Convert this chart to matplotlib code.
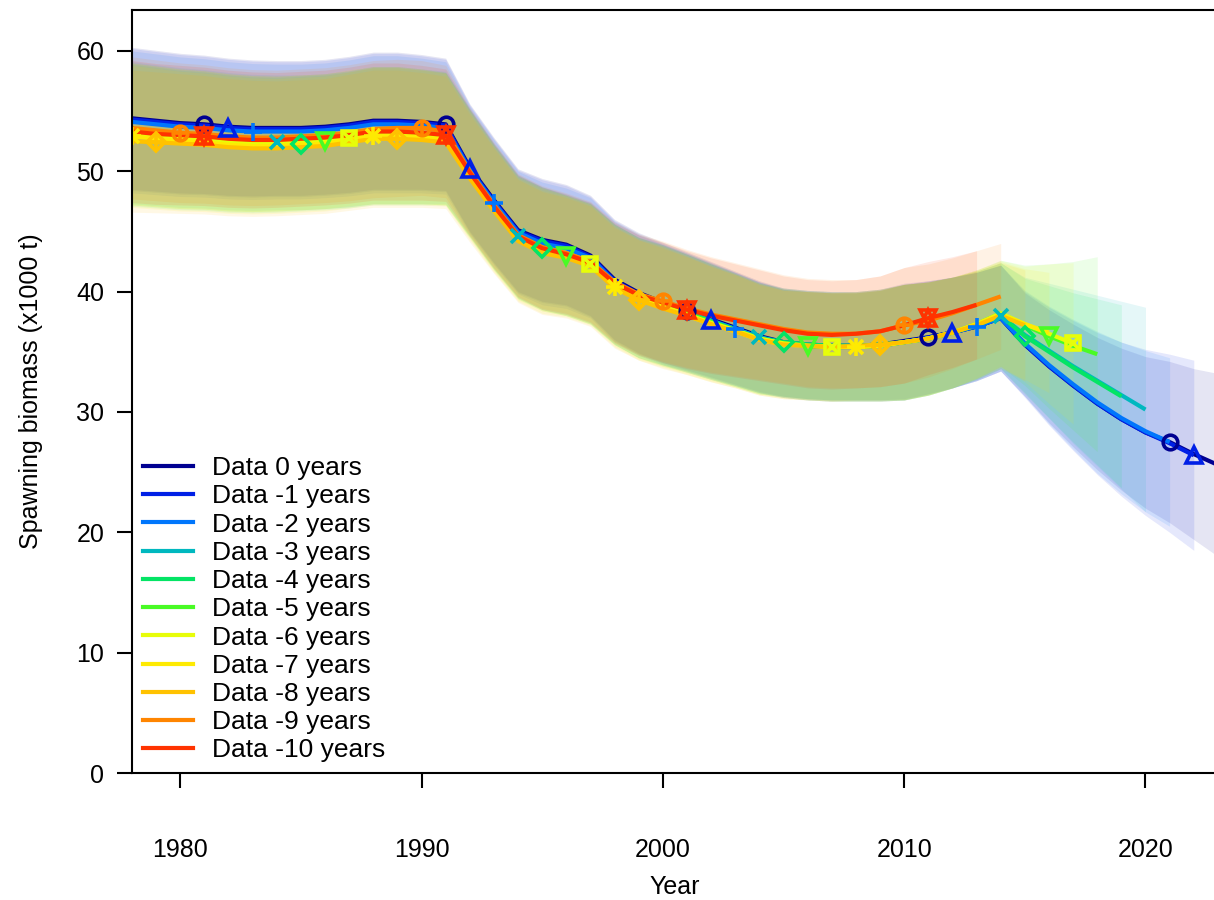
import numpy as np
import matplotlib
matplotlib.use("Agg")
import matplotlib.pyplot as plt
from matplotlib.lines import Line2D

plt.rcParams['font.family'] = ['Liberation Sans', 'DejaVu Sans']

first_year = 1978

labels = ['Data 0 years', 'Data -1 years', 'Data -2 years', 'Data -3 years',
          'Data -4 years', 'Data -5 years', 'Data -6 years', 'Data -7 years',
          'Data -8 years', 'Data -9 years', 'Data -10 years']

# rich.colors.short(12)[-1]
colors = ['#000091', '#0020E6', '#0076FC', '#00B8BF', '#04E465', '#49FB25',
          '#E7FD09', '#FEEA02', '#FFC200', '#FF8500', '#FF3300']

# spawning biomass (x1000 t), each series starts in 1978
ssb_0 = [54.4, 54.2, 54.0, 53.9, 53.7, 53.6, 53.6, 53.6, 53.7, 53.9, 54.2, 54.2, 54.1, 53.9,
         50.3, 47.6, 45.1, 44.3, 43.9, 43.0, 41.0, 39.9, 39.1, 38.4, 37.7, 37.0, 36.3, 35.8,
         35.6, 35.5, 35.5, 35.6, 35.9, 36.2, 36.6, 37.1, 37.8,
         35.6, 33.8, 32.2, 30.7, 29.4, 28.3, 27.5, 26.5, 25.6]
ssb_1 = [54.3, 54.1, 53.9, 53.8, 53.6, 53.5, 53.5, 53.5, 53.6, 53.8, 54.1, 54.1, 54.0, 53.8,
         50.2, 47.5, 45.0, 44.2, 43.8, 42.9, 40.9, 39.8, 39.0, 38.3, 37.6, 36.9, 36.2, 35.7,
         35.5, 35.4, 35.4, 35.5, 35.8, 36.2, 36.6, 37.1, 37.8,
         35.6, 33.8, 32.2, 30.7, 29.4, 28.3, 27.4, 26.4]
ssb_2 = [54.1, 53.9, 53.7, 53.6, 53.4, 53.3, 53.3, 53.3, 53.4, 53.6, 53.9, 53.9, 53.8, 53.6,
         50.1, 47.4, 44.9, 44.0, 43.6, 42.8, 40.8, 39.7, 38.9, 38.2, 37.5, 36.9, 36.2, 35.7,
         35.5, 35.4, 35.4, 35.5, 35.8, 36.1, 36.6, 37.1, 37.8,
         35.7, 33.9, 32.3, 30.8, 29.5, 28.4, 27.5]
ssb_3 = [53.2, 53.0, 52.8, 52.7, 52.5, 52.4, 52.4, 52.4, 52.5, 52.7, 53.0, 53.0, 52.9, 52.8,
         49.9, 47.1, 44.6, 43.6, 43.1, 42.4, 40.6, 39.5, 38.9, 38.3, 37.6, 36.9, 36.2, 35.8,
         35.6, 35.5, 35.5, 35.6, 35.8, 36.1, 36.6, 37.2, 38.0,
         36.4, 35.1, 33.8, 32.6, 31.4, 30.2]
ssb_4 = [53.0, 52.8, 52.6, 52.5, 52.3, 52.2, 52.2, 52.3, 52.4, 52.6, 52.9, 52.9, 52.8, 52.7,
         49.8, 47.0, 44.5, 43.6, 43.0, 42.3, 40.6, 39.5, 38.9, 38.2, 37.5, 36.8, 36.1, 35.8,
         35.6, 35.5, 35.5, 35.6, 35.8, 36.1, 36.6, 37.2, 38.0,
         36.3, 35.0, 33.7, 32.5, 31.3]
ssb_5 = [53.1, 52.9, 52.7, 52.6, 52.4, 52.3, 52.3, 52.4, 52.5, 52.7, 53.0, 53.0, 52.9, 52.7,
         49.8, 47.0, 44.5, 43.5, 43.0, 42.3, 40.6, 39.5, 38.8, 38.2, 37.5, 36.8, 36.1, 35.7,
         35.5, 35.4, 35.4, 35.5, 35.8, 36.1, 36.6, 37.3, 38.2,
         37.2, 36.3, 35.5, 34.8]
ssb_6 = [53.1, 52.9, 52.7, 52.6, 52.4, 52.3, 52.3, 52.4, 52.5, 52.8, 53.0, 53.0, 52.9, 52.7,
         49.7, 46.9, 44.4, 43.5, 43.0, 42.3, 40.5, 39.4, 38.8, 38.1, 37.4, 36.8, 36.1, 35.7,
         35.5, 35.4, 35.4, 35.5, 35.8, 36.1, 36.6, 37.3, 38.2,
         37.3, 36.5, 35.7]
ssb_7 = [52.9, 52.7, 52.5, 52.4, 52.2, 52.1, 52.1, 52.2, 52.3, 52.6, 52.9, 52.9, 52.8, 52.6,
         49.6, 46.8, 44.3, 43.3, 42.9, 42.2, 40.4, 39.3, 38.7, 38.0, 37.3, 36.7, 36.0, 35.6,
         35.5, 35.4, 35.4, 35.5, 35.8, 36.1, 36.6, 37.3, 38.1,
         37.3, 36.6]
ssb_8 = [52.5, 52.4, 52.3, 52.2, 52.0, 51.9, 51.9, 52.0, 52.1, 52.4, 52.7, 52.7, 52.6, 52.4,
         49.4, 46.7, 44.2, 43.2, 42.8, 42.1, 40.3, 39.3, 38.6, 38.0, 37.3, 36.7, 36.0, 35.6,
         35.5, 35.4, 35.5, 35.6, 35.8, 36.1, 36.6, 37.2, 38.0,
         37.2]
ssb_9 = [53.6, 53.4, 53.2, 53.1, 52.9, 52.8, 52.8, 52.9, 53.0, 53.2, 53.5, 53.6, 53.6, 53.3,
         50.0, 47.2, 44.7, 43.7, 43.2, 42.5, 40.8, 39.8, 39.2, 38.6, 38.1, 37.7, 37.3, 36.9,
         36.6, 36.5, 36.5, 36.7, 37.2, 37.6, 38.2, 38.9, 39.6]
ssb_10 = [53.3, 53.1, 53.0, 52.9, 52.7, 52.6, 52.6, 52.7, 52.8, 53.0, 53.3, 53.3, 53.2, 53.0,
          49.9, 47.1, 44.6, 43.6, 43.1, 42.4, 40.7, 39.7, 39.1, 38.5, 38.0, 37.6, 37.2, 36.8,
          36.5, 36.4, 36.5, 36.7, 37.2, 37.8, 38.3, 38.9]

# half-width of the 95% interval, 1978-2014 (shared), then per-run forecast years
hw_hist = [5.9, 5.85, 5.8, 5.75, 5.7, 5.65, 5.6, 5.6, 5.6, 5.65, 5.7, 5.7, 5.6, 5.5,
           5.3, 5.2, 5.1, 5.1, 5.0, 5.0, 5.0, 5.0, 5.0, 4.9, 4.8, 4.7, 4.6, 4.5,
           4.5, 4.5, 4.5, 4.6, 4.8, 4.7, 4.6, 4.5, 4.4]
hw_fore = [
    [4.3, 4.7, 5.1, 5.5, 5.9, 6.3, 6.7, 7.1, 7.6],
    [4.4, 4.9, 5.4, 5.9, 6.4, 6.9, 7.4, 7.9],
    [4.4, 4.9, 5.4, 5.9, 6.3, 6.7, 7.0],
    [4.8, 5.6, 6.4, 7.1, 7.8, 8.5],
    [4.8, 5.5, 6.2, 6.9, 7.6],
    [5.0, 6.0, 7.0, 8.1],
    [4.8, 5.8, 6.7],
    [4.6, 5.0],
    [4.6],
    [],
    [],
]

series = [ssb_0, ssb_1, ssb_2, ssb_3, ssb_4, ssb_5, ssb_6, ssb_7, ssb_8, ssb_9, ssb_10]

# r pch 1..11 built from matplotlib markers: (marker, size factor)
markers = [
    [('o', 1.0)], [('^', 1.1)], [('+', 1.3)], [('x', 1.0)], [('D', 0.85)],
    [('v', 1.1)], [('s', 0.95), ('x', 0.95)], [('+', 1.3), ('x', 1.0)],
    [('D', 0.85), ('+', 1.2)], [('o', 1.0), ('+', 1.0)], [('^', 1.1), ('v', 1.1)],
]

fig = plt.figure(figsize=(12.14, 9.0), dpi=100)
ax = fig.add_axes([0.1087, 0.1411, 0.8945, 0.8478])

# uncertainty polygons
for i, vals in enumerate(series):
    v = np.array(vals)
    yrs = first_year + np.arange(len(v))
    hw = np.array((hw_hist + hw_fore[i])[:len(v)])
    ax.fill_between(yrs, v - hw, v + hw, color=colors[i], alpha=0.1, lw=0)

# lines
for i, vals in enumerate(series):
    yrs = first_year + np.arange(len(vals))
    ax.plot(yrs, vals, color=colors[i], lw=3.0, solid_capstyle='butt')

# points, spaced every 10 years and staggered by run
ms = 10.5
for i, vals in enumerate(series):
    v = np.array(vals)
    yrs = first_year + np.arange(len(v))
    sel = (yrs - (1981 + i)) % 10 == 0
    for mk, f in markers[i]:
        ax.plot(yrs[sel], v[sel], ls='none', marker=mk, ms=ms * f, mfc='none',
                mec=colors[i], mew=2.6)

ax.set_xlim(1978, 2023)
ax.set_ylim(0, 63.4)
ax.set_xticks([1980, 1990, 2000, 2010, 2020])
ax.set_yticks(np.arange(0, 61, 10))
for s in ax.spines.values():
    s.set_linewidth(1.5)
ax.tick_params(direction='out', length=11, width=1.5, labelsize=18, colors='black')
ax.tick_params(axis='x', pad=36)
ax.tick_params(axis='y', pad=9)
ax.set_xlabel('Year', fontsize=18, labelpad=9)
ax.set_ylabel('Spawning biomass (x1000 t)', fontsize=18, labelpad=24)

handles = [Line2D([], [], color=c, lw=3.0) for c in colors]
ax.legend(handles, labels, loc='lower left', bbox_to_anchor=(0.0, 0.0), frameon=False,
          fontsize=19, handlelength=1.9, handletextpad=0.75, labelspacing=0.16,
          borderaxespad=0.1, borderpad=0.3)

fig.savefig('out.png', dpi=100)
